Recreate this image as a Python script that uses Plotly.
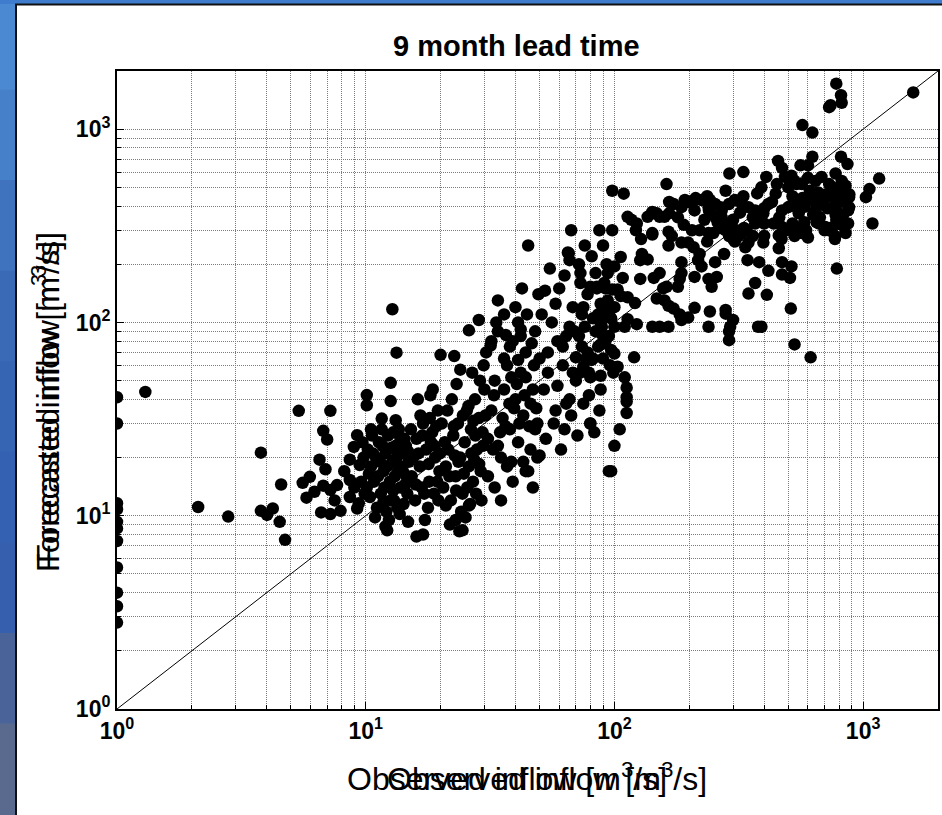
import plotly.graph_objects as go

# ---------------- data (observed, forecasted) in m3/s ----------------
obs_left = [1, 1, 1, 1, 1, 1, 1, 1, 1, 1, 1]
fc_left = [41, 30, 11.6, 10.8, 9.3, 8.6, 7.4, 5.4, 4.0, 3.4, 2.8]

obs_low = [1.30, 2.12, 2.80, 3.79, 3.79, 4.01, 4.23, 4.51, 4.74, 4.57, 5.38, 7.21, 6.75, 7.0,
           6.52, 6.89, 5.58, 5.96, 5.78, 6.22, 6.75, 7.21, 7.67, 6.62, 7.21, 7.92, 8.63, 8.63,
           8.63, 9.24, 8.96, 9.46, 9.38, 9.24, 10.1, 10.1, 12.6, 12.6, 13.3, 11.6, 13.2, 12.0,
           12.2, 14.8, 9.8, 9.6, 9.9, 9.7, 8.2, 7.5, 9.0, 12.8]
fc_low = [43.7, 11.1, 9.9, 21.2, 10.6, 10.1, 10.9, 9.3, 7.5, 14.5, 34.9, 34.9, 27.5, 24.8,
          19.5, 17.4, 14.8, 15.9, 12.4, 13.3, 14.3, 13.6, 14.4, 10.4, 10.2, 10.6, 19.5, 15.3,
          12.5, 26.1, 22.7, 18.3, 11.6, 10.9, 42.1, 37.3, 48.7, 39.2, 69.8, 31.8, 31.2, 8.8,
          8.4, 9.3, 20, 15, 13, 24, 17, 12, 14, 117]

obs_b1 = [10.2, 10.5, 10.8, 11, 11.3, 11.5, 11.8, 12, 12.3, 12.5, 12.8, 13, 13.2, 13.5, 13.8,
          14, 14.3, 14.6, 14.9, 10.4, 10.6, 11.1, 11.6, 12.1, 12.9, 13.6, 14.2, 14.7, 10.3,
          11.4, 12.7, 13.9, 11.9, 13.1, 14.5, 10.9, 12.4, 13.7,
          10.1, 10.7, 11.2, 11.7, 12.2, 12.6, 13.3, 13.8, 14.4, 14.8, 10.5, 11.8, 13.4, 14.1,
          12.9]
fc_b1 = [22, 18, 15, 20, 24, 13, 17, 21, 26, 15, 19, 12, 23, 17, 14, 21, 25, 16, 19, 12.5,
         26, 11, 28, 10.5, 13.5, 28, 11.5, 13, 16.5, 19, 22.5, 18, 14, 16, 23, 9.8, 9.5, 10.2,
         14, 21, 16, 23, 18, 12, 20, 25, 14.5, 21.5, 28, 11.8, 11, 17, 27]

obs_b2 = [15.5, 16, 16.5, 17, 17.5, 18, 18.5, 19, 19.5, 15.8, 16.8, 17.8, 18.8, 19.8, 16.2,
          17.3, 18.3, 19.2, 15.2, 16.6, 19.6, 18.6, 17, 16, 20, 18.2,
          15.3, 16.3, 17.2, 17.9, 18.9, 19.4, 16.9, 15.9, 18.1, 19.9]
fc_b2 = [20, 25, 18, 30, 22, 15, 27, 20, 35, 12, 14, 11, 13, 17, 40, 9.5, 24, 29, 28, 33, 12,
         45, 8.0, 7.8, 68, 42,
         16, 21, 13, 18.5, 23, 15, 26, 14.5, 32, 21]

obs_b3 = [20.5, 21, 21.5, 22, 22.5, 23, 23.5, 24, 24.5, 25, 25.5, 26, 26.5, 27, 27.5, 28, 28.5,
          29, 29.5, 30, 20.2, 21.3, 22.2, 23.2, 24.2, 26.3, 27.8, 29.2, 25.2, 28.8, 29.8, 26.8,
          21.8, 23.8, 27.3, 24.8, 22.8, 24.5, 23, 21, 26, 28.5, 26, 22.7, 24,
          20.8, 21.7, 22.6, 23.6, 24.6, 25.6, 26.6, 27.6, 28.6, 29.6, 25.9, 23.1, 27.1]
fc_b3 = [14, 18, 22, 12, 26, 16, 30, 20, 13, 24, 35, 18, 28, 15, 40, 22, 32, 17, 27, 45, 30, 35,
         40, 48, 10.5, 11.5, 13, 12, 9.8, 50, 60, 55, 9.0, 8.3, 19.5, 16.5, 20.5, 8.4, 9.5, 11.3,
         11.3, 103, 91, 67, 57,
         24, 16, 29, 19, 33, 14, 21, 26, 18.5, 23, 37, 13.5, 31]

obs_b4 = [31, 32, 33, 34, 35, 36, 37, 38, 39, 40, 41, 42, 43, 44, 45, 46, 47, 48, 49, 50, 31,
          33, 35, 37, 39, 41, 43, 45, 47, 49, 32, 34, 36, 38, 40, 42, 44, 46, 48, 30.5, 33.5,
          36.5, 39.5, 42.5, 44.5, 47.5, 49.5, 32.5, 35.5, 38.5, 41.5, 46.5, 44, 50, 31.8, 36.6,
          42, 52.6,
          30.3, 32.8, 34.7, 37.8, 40.5, 43.5, 45.5, 48.5, 36, 41, 34, 38.5]
fc_b4 = [25, 35, 50, 130, 20, 45, 60, 28, 80, 40, 100, 55, 33, 70, 250, 22, 45, 90, 30, 65, 16,
         14, 12, 18, 15, 24, 19, 17, 14, 20, 80, 90, 110, 75, 120, 85, 52, 38, 28, 70, 100, 29,
         36, 150, 110, 60, 140, 22, 32, 52, 30, 78, 17, 20.5, 76, 86, 92, 146,
         33, 42, 27, 38, 48, 42, 29, 36, 65, 64, 23, 19]

obs_b5 = [52, 54, 55, 56, 58, 60, 62, 64, 65, 66, 68, 70, 72, 74, 76, 78, 80, 82, 84, 86, 88,
          90, 92, 94, 96, 98, 53, 57, 61, 63, 67, 71, 75, 79, 83, 87, 95, 99, 51, 59, 69, 77,
          85, 93, 97, 58, 63, 73, 81, 89, 66, 76, 91, 86, 54, 59, 64, 70, 74, 79, 88, 65.5,
          67, 112, 112, 112, 100, 97, 105, 80,
          62, 68, 72, 78, 84, 90, 95, 66, 75, 82, 92, 97]
fc_b5 = [45, 70, 190, 100, 35, 150, 60, 85, 230, 40, 120, 50, 200, 75, 95, 140, 30, 65, 180,
         110, 45, 250, 80, 130, 60, 300, 25, 30, 22, 28, 33, 26, 38, 42, 27, 35, 17, 55, 110, 80,
         90, 65, 150, 200, 105, 125, 175, 160, 220, 95, 210, 250, 160, 75, 55, 47, 38, 66, 110,
         55, 125, 228, 300, 46, 39, 34, 23, 17, 28, 30,
         75, 55, 85, 70, 90, 65, 85, 95, 120, 105, 115, 72]

obs_up = [780, 815, 820, 740, 730, 1590, 570, 625, 625, 815, 865, 455, 472, 560, 600, 290, 330,
          408, 1160, 1060, 1026, 162, 98, 109, 280, 375, 390, 870, 870, 1090, 775, 770, 730, 665,
          705, 600, 567, 530, 472, 458, 458, 472, 515, 508, 472, 416, 410, 368, 346, 382, 343,
          305, 346, 397, 325, 289, 276, 254, 258, 246, 239, 217, 224, 210, 186, 186, 183, 180,
          165, 165, 186, 198, 205, 208, 220, 236, 239, 267, 292, 316, 336, 332, 368, 400, 437,
          520, 551, 582, 644, 680, 700, 775, 820, 878,
          485, 515, 530, 500, 567, 644, 680, 775, 820, 850, 878, 752, 644, 600, 551, 500, 472,
          445, 416, 397, 368, 346, 325, 305, 289, 270, 254, 239, 224, 210, 198, 186, 173, 166,
          159, 148, 142, 136, 123, 117, 113, 122,
          73, 87, 128, 142, 144, 152, 166, 192, 212, 236, 242, 254, 267,
          106, 100, 94, 108, 127, 152, 144, 162, 148, 159, 165, 173, 183, 198, 210, 242, 280,
          280, 300, 292, 289, 239, 186, 165, 152, 142, 123, 113, 110, 100, 96, 88, 80, 85, 92,
          98, 103, 106, 113, 121, 100, 94, 88, 89, 91, 88, 81, 78, 75, 73, 80, 88, 100, 103,
          110, 120, 112, 127, 129, 136, 142, 157,
          512, 530, 615, 784, 378, 390, 289,
          430, 460, 490, 520, 550, 580, 610, 640, 670, 700, 730, 760, 790, 820, 850, 880, 540,
          600, 660, 720, 780, 840, 450, 510, 570, 630, 690, 750, 810, 470, 530, 590, 650, 710,
          770, 830, 400, 360, 330, 300,
          180, 200, 220, 240, 260, 280, 300, 320, 340, 360, 380, 400, 170, 190, 210, 230, 250,
          270, 290, 310]
fc_up = [1720, 1500, 1370, 1330, 1300, 1550, 1050, 960, 720, 720, 660, 685, 630, 650, 650, 590,
         600, 566, 555, 490, 445, 520, 480, 464, 480, 465, 500, 380, 325, 325, 360, 280, 300,
         325, 312, 275, 290, 312, 312, 282, 242, 205, 195, 170, 177, 185, 139, 160, 141, 205,
         210, 262, 259, 259, 290, 280, 226, 205, 172, 153, 168, 210, 195, 172, 205, 180, 168,
         153, 250, 295, 259, 259, 300, 245, 226, 262, 290, 308, 300, 280, 245, 308, 325, 325,
         325, 325, 367, 397, 380, 410, 445, 395, 430, 395,
         566, 575, 540, 500, 520, 540, 566, 590, 540, 510, 445, 500, 464, 430, 410, 395, 380,
         464, 410, 367, 380, 395, 410, 430, 410, 380, 352, 395, 430, 430, 420, 395, 410, 367,
         352, 367, 373, 352, 325, 340, 352, 300,
         180, 300, 270, 290, 367, 352, 420, 430, 440, 450, 430, 410, 395,
         218, 195, 180, 170, 168, 180, 170, 153, 133, 130, 122, 118, 110, 106, 119, 114, 116,
         111, 103, 95, 81, 95, 103, 95, 95, 95, 98, 104, 95, 95, 106, 105, 153, 153, 150, 148,
         148, 137, 135, 126, 120, 111, 100, 87, 78, 77, 64, 66, 59, 55, 52, 53, 69, 59, 52, 66,
         41, 210, 226, 212, 285, 150,
         118, 77, 66, 190, 95, 95, 90,
         420, 350, 300, 450, 380, 330, 480, 420, 350, 300, 520, 440, 370, 320, 290, 460, 520,
         560, 470, 390, 340, 420, 520, 400, 440, 360, 420, 310, 480, 270, 280, 300, 330, 460,
         270, 360, 390, 350, 450, 340,
         350, 420, 300, 380, 330, 300, 270, 370, 300, 280, 350, 280, 280, 320, 380, 340, 290,
         350, 320, 300]

observed = obs_left + obs_low + obs_b1 + obs_b2 + obs_b3 + obs_b4 + obs_b5 + obs_up
forecast = fc_left + fc_low + fc_b1 + fc_b2 + fc_b3 + fc_b4 + fc_b5 + fc_up

diag_vals = [1, 2000]
tick_vals = [1, 10, 100, 1000]
tick_text = ["10<sup>0</sup>", "10<sup>1</sup>", "10<sup>2</sup>", "10<sup>3</sup>"]
minor_vals = [m * 10 ** e for e in range(0, 4) for m in range(2, 10)]

title_text = "9 month lead time"
xlabel_text = "Observed inflow [m<sup>3</sup>/s]"
ylabel_text = "Forecasted inflow [m<sup>3</sup>/s]"

# ---------------- figure ----------------
W, H = 942, 815
L, R, T, B = 117, 4, 71, 106
pw, ph = W - L - R, H - T - B


def px(x):
    return (x - L) / pw


def py(y):
    return (H - B - y) / ph


FONT = "Liberation Sans, Arial, sans-serif"

fig = go.Figure()
fig.add_trace(go.Scatter(x=diag_vals, y=diag_vals, mode="lines",
                         line=dict(color="black", width=1), hoverinfo="skip"))
fig.add_trace(go.Scatter(x=observed, y=forecast, mode="markers",
                         marker=dict(color="black", size=12.5, line=dict(width=0))))

axis_common = dict(
    type="log", range=[0, 3.30103], showline=True, linecolor="black", linewidth=2,
    mirror=True, ticks="inside", ticklen=7, tickwidth=1, tickcolor="black",
    tickvals=tick_vals, ticktext=tick_text, automargin=False,
    tickfont=dict(family=FONT, size=23, color="black", weight="bold"),
    showgrid=True, gridcolor="#7a7a7a", gridwidth=1, griddash="1px,1px",
    minor=dict(tickvals=minor_vals, ticks="inside", ticklen=4, tickcolor="black",
               showgrid=True, gridcolor="#7a7a7a", gridwidth=1, griddash="1px,1px"),
    zeroline=False,
)

fig.update_xaxes(**axis_common)
fig.update_yaxes(**axis_common)

shapes = []
strip_cols = ["#4b8ad2", "#4680c8", "#3f73bd", "#3a6ab6", "#3665b3", "#3461b2", "#3660ae",
              "#4a649a", "#5a6a8e"]
n = len(strip_cols)
for i, c in enumerate(strip_cols):
    shapes.append(dict(type="rect", xref="paper", yref="paper", layer="below",
                       x0=px(-2), x1=px(16), y0=py(H * (i + 1) / n + 1), y1=py(H * i / n - 1),
                       fillcolor=c, line=dict(width=0)))
shapes.append(dict(type="rect", xref="paper", yref="paper", layer="below",
                   x0=px(-2), x1=px(W + 5), y0=py(4), y1=py(-3),
                   fillcolor="#3f7ccd", line=dict(width=0)))
shapes.append(dict(type="rect", xref="paper", yref="paper", layer="below",
                   x0=px(16), x1=px(W + 5), y0=py(H + 5), y1=py(5),
                   fillcolor="white", line=dict(width=0)))
shapes.append(dict(type="line", xref="paper", yref="paper", layer="below",
                   x0=px(16), x1=px(16), y0=py(H + 5), y1=py(4.5),
                   line=dict(color="#111111", width=2)))
shapes.append(dict(type="line", xref="paper", yref="paper", layer="below",
                   x0=px(15), x1=px(W + 5), y0=py(4.5), y1=py(4.5),
                   line=dict(color="#111111", width=2)))

annotations = [
    dict(text="<b>" + title_text + "</b>", x=px(516), y=py(46), xref="paper", yref="paper",
         showarrow=False, font=dict(family=FONT, size=29, color="black"),
         xanchor="center", yanchor="middle"),
    dict(text=xlabel_text, x=px(507), y=py(777), xref="paper", yref="paper",
         showarrow=False, font=dict(family=FONT, size=32, color="black"),
         xanchor="center", yanchor="middle"),
    dict(text=xlabel_text, x=px(547), y=py(777), xref="paper", yref="paper",
         showarrow=False, font=dict(family=FONT, size=32, color="black"),
         xanchor="center", yanchor="middle"),
    dict(text=ylabel_text, x=px(46), y=py(398), xref="paper", yref="paper", textangle=-90,
         showarrow=False, font=dict(family=FONT, size=31, color="black"),
         xanchor="center", yanchor="middle"),
    dict(text=ylabel_text, x=px(46), y=py(407), xref="paper", yref="paper", textangle=-90,
         showarrow=False, font=dict(family=FONT, size=31, color="black"),
         xanchor="center", yanchor="middle"),
]

fig.update_layout(
    width=W, height=H, margin=dict(l=L, r=R, t=T, b=B, pad=0),
    paper_bgcolor="#3c70bd", plot_bgcolor="white", showlegend=False,
    shapes=shapes, annotations=annotations,
    font=dict(family=FONT, color="black"),
)

fig.write_html("out.html", config={"displayModeBar": False},
               post_script="document.body.style.margin='0px';"
                           "document.body.style.overflow='hidden';")
